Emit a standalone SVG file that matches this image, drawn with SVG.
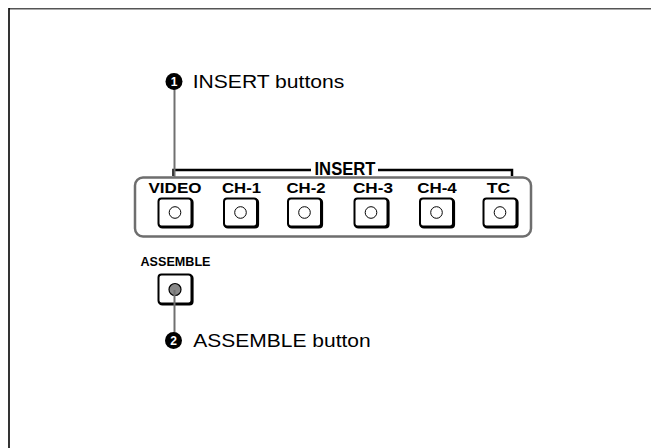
<svg xmlns="http://www.w3.org/2000/svg" width="651" height="448" viewBox="0 0 651 448">
<style>
.lbl{font-family:"Liberation Sans",Arial,sans-serif;font-weight:bold;font-size:15px;fill:#000;text-anchor:middle}
.call{font-family:"Liberation Sans",Arial,sans-serif;font-size:18.5px;fill:#000}
.num{font-family:"Liberation Sans",Arial,sans-serif;font-weight:bold;font-size:12px;fill:#fff;text-anchor:middle}
.btn{fill:#fff;stroke:#000;stroke-width:2}
.sh{fill:none;stroke:#000;stroke-width:2.2}
.lamp{fill:#fff;stroke:#000;stroke-width:1}
.lead{stroke:#707070;stroke-width:2;fill:none}
</style>
<rect x="0" y="0" width="651" height="448" fill="#fff"/>
<g id="frame">
<line x1="9" y1="8.7" x2="651" y2="8.7" stroke="#555" stroke-width="1.6"/>
<line x1="9" y1="8" x2="9" y2="448" stroke="#000" stroke-width="1.6"/>
</g>
<g id="panel">
<rect x="135" y="177.5" width="396" height="59" rx="8" ry="8" fill="none" stroke="#6e6e6e" stroke-width="2.5"/>
<path d="M173.5,176 V170 H311 M378,170 H512 V176" fill="none" stroke="#000" stroke-width="2.5"/>
<text x="345" y="175" class="lbl" style="font-size:17.5px" textLength="61" lengthAdjust="spacingAndGlyphs">INSERT</text>
</g>
<g id="btn-video">
<text x="175" y="193" class="lbl" textLength="53" lengthAdjust="spacingAndGlyphs">VIDEO</text>
<rect x="159.5" y="199.5" width="33" height="28" rx="3" class="sh"/>
<rect x="158.5" y="198.5" width="33" height="28" rx="3" class="btn"/>
<circle cx="175" cy="212.5" r="5.8" class="lamp"/>
</g>
<g id="btn-ch1">
<text x="241.5" y="193" class="lbl" textLength="39" lengthAdjust="spacingAndGlyphs">CH-1</text>
<rect x="225" y="199.5" width="33" height="28" rx="3" class="sh"/>
<rect x="224" y="198.5" width="33" height="28" rx="3" class="btn"/>
<circle cx="240.5" cy="212.5" r="5.8" class="lamp"/>
</g>
<g id="btn-ch2">
<text x="306" y="193" class="lbl" textLength="39" lengthAdjust="spacingAndGlyphs">CH-2</text>
<rect x="289" y="199.5" width="33" height="28" rx="3" class="sh"/>
<rect x="288" y="198.5" width="33" height="28" rx="3" class="btn"/>
<circle cx="304.5" cy="212.5" r="5.8" class="lamp"/>
</g>
<g id="btn-ch3">
<text x="373" y="193" class="lbl" textLength="40" lengthAdjust="spacingAndGlyphs">CH-3</text>
<rect x="355.5" y="199.5" width="33" height="28" rx="3" class="sh"/>
<rect x="354.5" y="198.5" width="33" height="28" rx="3" class="btn"/>
<circle cx="371" cy="212.5" r="5.8" class="lamp"/>
</g>
<g id="btn-ch4">
<text x="437" y="193" class="lbl" textLength="39.5" lengthAdjust="spacingAndGlyphs">CH-4</text>
<rect x="421" y="199.5" width="33" height="28" rx="3" class="sh"/>
<rect x="420" y="198.5" width="33" height="28" rx="3" class="btn"/>
<circle cx="436.5" cy="212.5" r="5.8" class="lamp"/>
</g>
<g id="btn-tc">
<text x="498.5" y="193" class="lbl" textLength="23.5" lengthAdjust="spacingAndGlyphs">TC</text>
<rect x="484.5" y="199.5" width="33" height="28" rx="3" class="sh"/>
<rect x="483.5" y="198.5" width="33" height="28" rx="3" class="btn"/>
<circle cx="500" cy="212.5" r="5.8" class="lamp"/>
</g>
<g id="btn-assemble">
<text x="175.5" y="266" class="lbl" style="font-size:13px" textLength="70" lengthAdjust="spacingAndGlyphs">ASSEMBLE</text>
<rect x="159.5" y="275.5" width="33" height="29" rx="3" class="sh"/>
<rect x="158.5" y="274.5" width="33" height="29" rx="3" class="btn"/>
<circle cx="175" cy="289.5" r="6" fill="#888" stroke="#000" stroke-width="1.2"/>
</g>
<g id="connectors">
<line x1="174.5" y1="82" x2="174.5" y2="178" class="lead"/>
<line x1="174.5" y1="290" x2="174.5" y2="340" class="lead"/>
</g>
<g id="callout-1">
<circle cx="174" cy="81.5" r="8.5" fill="#000"/>
<text x="174" y="86" class="num">1</text>
<text x="192.7" y="87.5" class="call" textLength="151.6" lengthAdjust="spacingAndGlyphs">INSERT buttons</text>
</g>
<g id="callout-2">
<circle cx="173.5" cy="340.5" r="8.5" fill="#000"/>
<text x="173.5" y="345" class="num">2</text>
<text x="193.3" y="347.3" class="call" textLength="177.4" lengthAdjust="spacingAndGlyphs">ASSEMBLE button</text>
</g>
</svg>
